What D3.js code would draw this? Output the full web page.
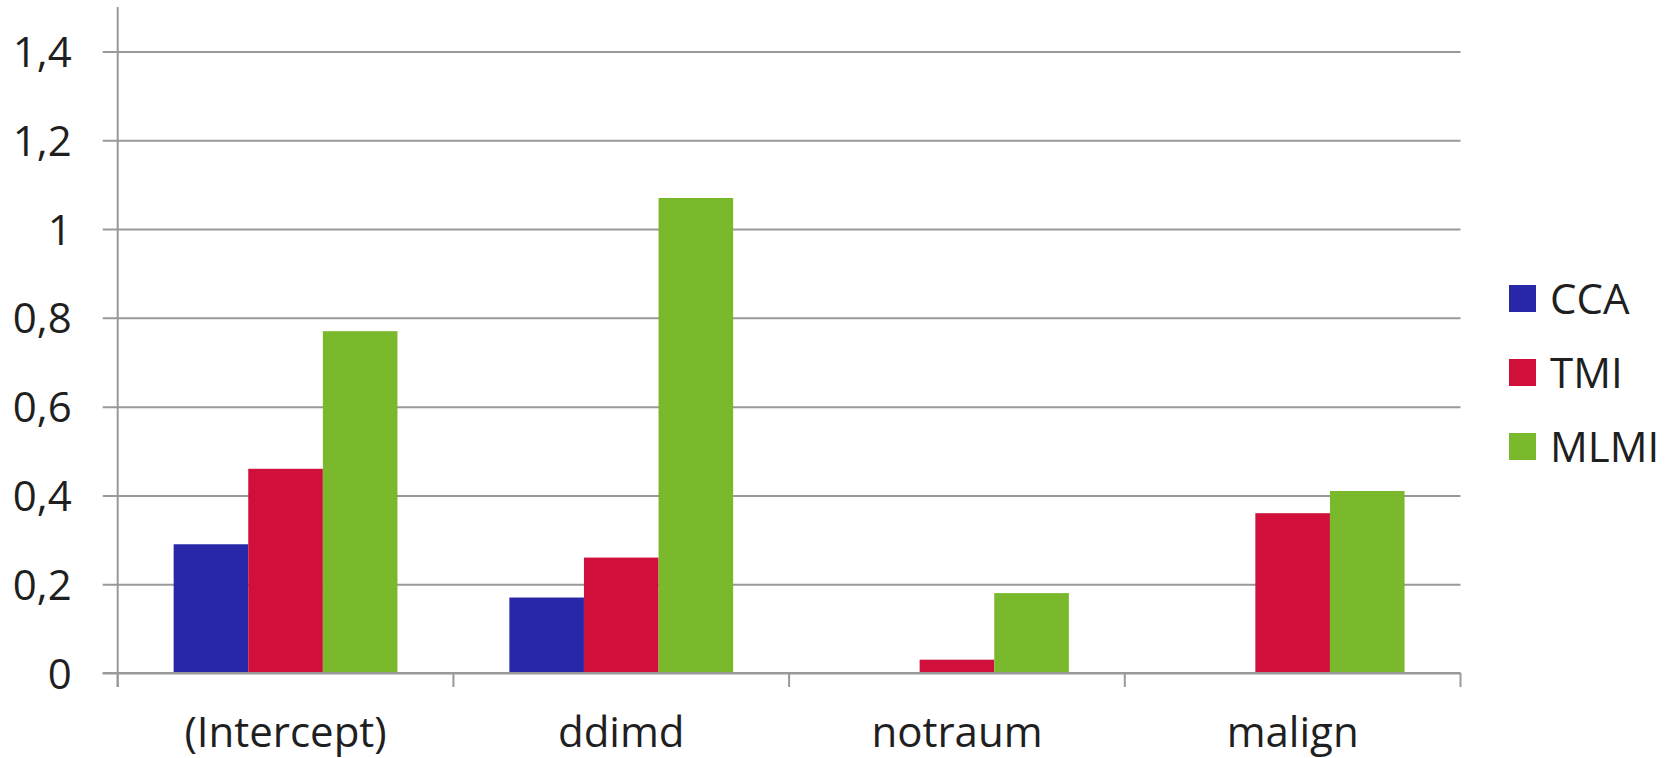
<!DOCTYPE html>
<html>
<head>
<meta charset="utf-8">
<script src="https://cdn.jsdelivr.net/npm/d3@7"></script>
<style>
  html, body { margin: 0; padding: 0; background: #fff; }
  svg { display: block; }
  text { font-family: "Open Sans", Lato, sans-serif; fill: #1f1f1f; }
</style>
</head>
<body>
<svg id="chart" width="1677" height="758"></svg>
<script>
// Coefficients by predictor for each method
const categories = ["(Intercept)", "ddimd", "notraum", "malign"];
const seriesNames = ["CCA", "TMI", "MLMI"];
const ccaValues  = [0.29, 0.17, 0, 0];
const tmiValues  = [0.46, 0.26, 0.03, 0.36];
const mlmiValues = [0.77, 1.07, 0.18, 0.41];
const seriesColors = ["#2727a8", "#d0103a", "#7ab82c"];
const yTicks = [0, 0.2, 0.4, 0.6, 0.8, 1, 1.2, 1.4];

const series = [ccaValues, tmiValues, mlmiValues];
const fmt = d3.formatLocale({decimal: ",", thousands: ".", grouping: [3], currency: ["", ""]}).format("~g");

const svg = d3.select("#chart");
const plotLeft = 117.7, plotRight = 1460.5, plotTop = 51.5, plotBottom = 673;
const axisColor = "#999999";
const fontSize = "42px";
const fontFamily = "'Open Sans', Lato, sans-serif";

const y = d3.scaleLinear().domain([0, 1.4]).range([plotBottom, plotTop]);
const x0 = d3.scaleBand().domain(categories).range([plotLeft, plotRight]).paddingInner(0).paddingOuter(0);
// bars take 3 of 4.5 units of each category (gap width 150%)
const barW = x0.bandwidth() / 4.5;
const x1 = d3.scaleBand().domain(seriesNames).range([0.75 * barW, x0.bandwidth() - 0.75 * barW]).padding(0);

// horizontal gridlines with their left tick marks and labels
const yAxis = d3.axisLeft(y).tickValues(yTicks).tickSize(-(plotRight - plotLeft)).tickFormat(fmt).tickPadding(0);
const gy = svg.append("g").attr("transform", `translate(${plotLeft},0)`).call(yAxis);
gy.select(".domain").remove();
gy.selectAll(".tick line").attr("x1", -15).attr("stroke", axisColor).attr("stroke-width", 2);
gy.selectAll(".tick text")
  .attr("x", -46).attr("dy", "0.36em")
  .style("font-size", fontSize).style("font-family", fontFamily).attr("fill", "#1f1f1f");

// bars
const groups = svg.append("g").selectAll("g")
  .data(categories)
  .join("g")
  .attr("transform", d => `translate(${x0(d)},0)`);

groups.selectAll("rect")
  .data((c, i) => seriesNames.map((s, k) => ({s, v: series[k][i], color: seriesColors[k]})))
  .join("rect")
  .attr("x", d => x1(d.s))
  .attr("width", x1.bandwidth())
  .attr("y", d => y(d.v))
  .attr("height", d => y(0) - y(d.v))
  .attr("fill", d => d.color);

// vertical axis line
svg.append("line")
  .attr("x1", plotLeft).attr("x2", plotLeft).attr("y1", 7).attr("y2", plotBottom + 14)
  .attr("stroke", axisColor).attr("stroke-width", 2);

// category axis
const xAxis = d3.axisBottom(x0).tickSize(0).tickPadding(0);
const gx = svg.append("g").attr("transform", `translate(0,${plotBottom})`).call(xAxis);
gx.select(".domain").remove();
gx.append("line").attr("x1", plotLeft - 15).attr("x2", plotRight).attr("y1", 0).attr("y2", 0)
  .attr("stroke", axisColor).attr("stroke-width", 2);
gx.selectAll(".boundary")
  .data(categories.map(c => x0(c)).concat([plotRight]))
  .join("line")
  .attr("class", "boundary")
  .attr("x1", d => d).attr("x2", d => d).attr("y1", 0).attr("y2", 14)
  .attr("stroke", axisColor).attr("stroke-width", 2);
gx.selectAll(".tick text")
  .attr("y", 74).attr("dy", 0)
  .style("font-size", fontSize).style("font-family", fontFamily).attr("fill", "#1f1f1f");

// legend
const legend = svg.append("g").attr("transform", "translate(1509,285)");
const items = legend.selectAll("g")
  .data(seriesNames)
  .join("g")
  .attr("transform", (d, i) => `translate(0,${i * 74})`);
items.append("rect").attr("width", 27).attr("height", 27)
  .attr("fill", (d, i) => seriesColors[i]);
items.append("text").attr("x", 41).attr("y", 13.5).attr("dy", "0.36em")
  .style("font-size", fontSize).style("font-family", fontFamily).text(d => d);
</script>
</body>
</html>
